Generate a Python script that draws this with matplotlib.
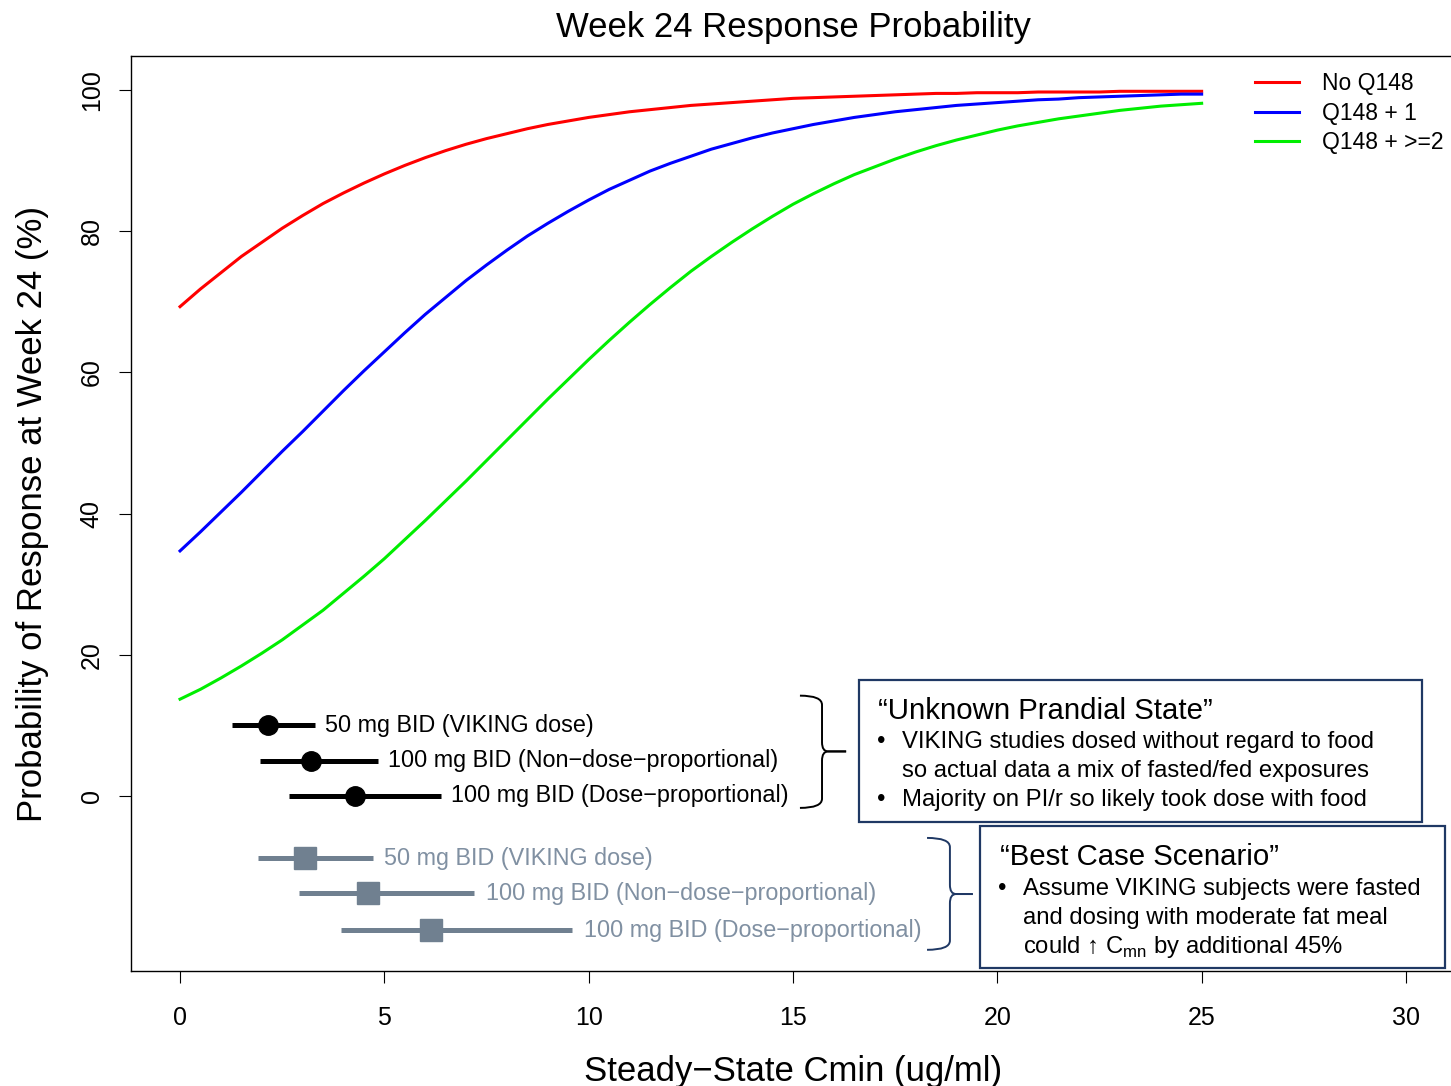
import numpy as np
import matplotlib
matplotlib.use('Agg')
import matplotlib.pyplot as plt
from matplotlib.path import Path
from matplotlib.patches import PathPatch, Rectangle

plt.rcParams['font.family'] = ['Liberation Sans', 'DejaVu Sans']

# curve values (probability %, Cmin 0..25 ug/ml in steps of 0.5)
cmin = [i / 2 for i in range(51)]
no_q148 = [69.3, 71.8, 74.1, 76.4, 78.4, 80.4, 82.2, 83.9, 85.4, 86.8,
           88.1, 89.3, 90.4, 91.4, 92.3, 93.1, 93.8, 94.5, 95.1, 95.6,
           96.1, 96.5, 96.9, 97.2, 97.5, 97.8, 98.0, 98.2, 98.4, 98.6,
           98.8, 98.9, 99.0, 99.1, 99.2, 99.3, 99.4, 99.5, 99.5, 99.6,
           99.6, 99.6, 99.7, 99.7, 99.7, 99.7, 99.8, 99.8, 99.8, 99.8, 99.8]
q148_1 = [34.7, 37.4, 40.2, 43.0, 45.9, 48.8, 51.6, 54.5, 57.4, 60.2,
          62.9, 65.6, 68.2, 70.6, 73.0, 75.2, 77.3, 79.3, 81.1, 82.8,
          84.4, 85.9, 87.2, 88.5, 89.6, 90.6, 91.6, 92.4, 93.2, 93.9,
          94.5, 95.1, 95.6, 96.1, 96.5, 96.9, 97.2, 97.5, 97.8, 98.0,
          98.2, 98.4, 98.6, 98.7, 98.9, 99.0, 99.1, 99.2, 99.3, 99.4, 99.4]
q148_2 = [13.7, 15.1, 16.7, 18.4, 20.2, 22.1, 24.2, 26.3, 28.7, 31.1,
          33.6, 36.3, 39.0, 41.8, 44.6, 47.5, 50.4, 53.3, 56.2, 59.0,
          61.8, 64.5, 67.1, 69.6, 72.0, 74.3, 76.4, 78.4, 80.3, 82.1,
          83.8, 85.3, 86.7, 88.0, 89.1, 90.2, 91.2, 92.1, 92.9, 93.6,
          94.3, 94.9, 95.4, 95.9, 96.3, 96.7, 97.1, 97.4, 97.7, 97.9, 98.1]
series_labels = ['No Q148', 'Q148 + 1', 'Q148 + >=2']
series_colors = ['#ff0000', '#0000ff', '#00ee00']

# exposure ranges
dose_labels = ['50 mg BID (VIKING dose)', '100 mg BID (Non\u2212dose\u2212proportional)',
               '100 mg BID (Dose\u2212proportional)']
fasted_y = [10, 5, 0]
fasted_mid = [2.15, 3.21, 4.28]
fasted_lo = [1.27, 1.96, 2.67]
fasted_hi = [3.30, 4.84, 6.39]
fed_y = [-8.8, -13.8, -19.0]
fed_mid = [3.06, 4.60, 6.15]
fed_lo = [1.91, 2.90, 3.95]
fed_hi = [4.72, 7.20, 9.60]

navy = '#1f3864'
slate = '#708090'

fig = plt.figure(figsize=(14.51, 10.86), dpi=100)
ax = fig.add_axes([131 / 1451, 1 - 971 / 1086, 1324 / 1451, 915 / 1086])

for vals, lab, col in zip([no_q148, q148_1, q148_2], series_labels, series_colors):
    ax.plot(cmin, vals, color=col, lw=2.2, label=lab)

for i in range(3):
    ax.hlines(fasted_y[i], fasted_lo[i], fasted_hi[i], color='black', lw=3.6)
    ax.plot(fasted_mid[i], fasted_y[i], 'o', ms=14, color='black')
    ax.text(fasted_hi[i] + 0.25, fasted_y[i], dose_labels[i], fontsize=16.8, va='center', ha='left')
    ax.hlines(fed_y[i], fed_lo[i], fed_hi[i], color=slate, lw=3.6)
    ax.plot(fed_mid[i], fed_y[i], 's', ms=16, color=slate)
    ax.text(fed_hi[i] + 0.28, fed_y[i], dose_labels[i], fontsize=16.8, va='center', ha='left',
            color='#8090a2')


def brace(x0, x1, x2, ytop, ybot, ymid, color):
    ry = 1.3
    dx = 0.15
    for yend, s in [(ytop, 1), (ybot, -1)]:
        verts = [(x0, yend), (x1, yend), (x1, yend - s * ry), (x1, ymid + s * ry),
                 (x1, ymid), (x1 + dx, ymid), (x2, ymid)]
        codes = [Path.MOVETO, Path.CURVE3, Path.CURVE3, Path.LINETO,
                 Path.CURVE3, Path.CURVE3, Path.LINETO]
        ax.add_patch(PathPatch(Path(verts, codes), fill=False, edgecolor=color, lw=1.4, clip_on=False))


brace(15.17, 15.71, 16.3, 14.2, -1.7, 6.3, 'black')
brace(18.28, 18.84, 19.4, -5.95, -21.8, -13.9, navy)

ax.add_patch(Rectangle((16.61, -3.7), 13.78, 20.1, facecolor='white', edgecolor=navy, lw=1.6, clip_on=False))
ax.add_patch(Rectangle((19.57, -24.4), 11.38, 20.15, facecolor='white', edgecolor=navy, lw=1.6, clip_on=False))

ax.text(17.08, 12.0, '\u201cUnknown Prandial State\u201d', fontsize=21.2, va='center', ha='left')
box1 = ['VIKING studies dosed without regard to food', 'so actual data a mix of fasted/fed exposures',
        'Majority on PI/r so likely took dose with food']
for txt, yy, bullet in zip(box1, [7.65, 3.55, -0.55], [True, False, True]):
    if bullet:
        ax.text(17.05, yy, '\u2022', fontsize=17.2, va='center', ha='left')
    ax.text(17.67, yy, txt, fontsize=17.2, va='center', ha='left')

ax.text(20.06, -8.6, '\u201cBest Case Scenario\u201d', fontsize=21.2, va='center', ha='left')
box2 = ['Assume VIKING subjects were fasted', 'and dosing with moderate fat meal',
        'could \u2191 C$_{\\mathregular{mn}}$ by additional 45%']
for txt, yy, bullet in zip(box2, [-13.2, -17.3, -21.4], [True, False, False]):
    if bullet:
        ax.text(20.02, yy, '\u2022', fontsize=17.2, va='center', ha='left')
    ax.text(20.63, yy, txt, fontsize=17.2, va='center', ha='left')

ax.set_xlim(-1.2, 31.2)
ax.set_ylim(-24.8, 104.8)
ax.set_xticks([0, 5, 10, 15, 20, 25, 30])
ax.set_yticks([0, 20, 40, 60, 80, 100])
ax.tick_params(axis='both', direction='out', length=8.6, width=0.8, labelsize=18)
ax.tick_params(axis='x', pad=16.5)
ax.tick_params(axis='y', pad=11, labelrotation=90)
for lbl in ax.get_yticklabels():
    lbl.set_va('center')
for sp in ax.spines.values():
    sp.set_linewidth(1.0)

ax.set_title('Week 24 Response Probability', fontsize=25, pad=14)
ax.set_xlabel('Steady\u2212State Cmin (ug/ml)', fontsize=25, labelpad=18)
ax.set_ylabel('Probability of Response at Week 24 (%)', fontsize=25, labelpad=22.5)

ax.legend(loc='upper left', bbox_to_anchor=(0.849, 0.982), frameon=False, fontsize=16.5,
          handlelength=1.9, handletextpad=1.0, labelspacing=0.28, borderpad=0, borderaxespad=0)

fig.savefig('out.png', dpi=100)
